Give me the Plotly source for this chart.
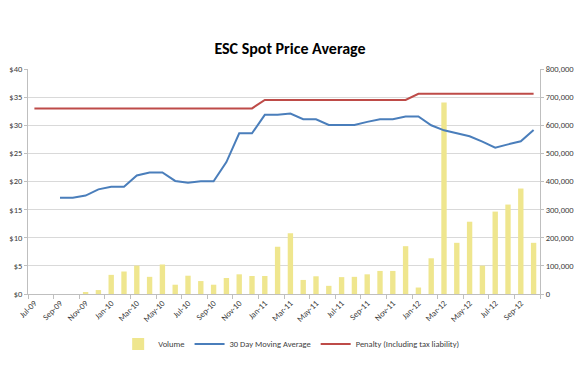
import plotly.graph_objects as go

months = ["Jul-09","Aug-09","Sep-09","Oct-09","Nov-09","Dec-09",
          "Jan-10","Feb-10","Mar-10","Apr-10","May-10","Jun-10","Jul-10","Aug-10","Sep-10","Oct-10","Nov-10","Dec-10",
          "Jan-11","Feb-11","Mar-11","Apr-11","May-11","Jun-11","Jul-11","Aug-11","Sep-11","Oct-11","Nov-11","Dec-11",
          "Jan-12","Feb-12","Mar-12","Apr-12","May-12","Jun-12","Jul-12","Aug-12","Sep-12","Oct-12"]

volume = [0, 0, 0, 0, 7000, 14000,
          68000, 80000, 101000, 61000, 105000, 33000, 65000, 46000, 33000, 57000, 70000, 64000,
          64000, 168000, 216000, 50000, 63000, 29000, 60000, 61000, 70000, 82000, 82000, 170000,
          23000, 127000, 681000, 182000, 257000, 101000, 293000, 318000, 375000, 182000]

moving_avg = [None, None, 17.1, 17.1, 17.5, 18.6,
              19.05, 19.05, 21.07, 21.6, 21.6, 20.1, 19.8, 20.05, 20.05, 23.45, 28.57, 28.57,
              31.85, 31.85, 32.08, 31.07, 31.07, 30.06, 30.06, 30.06, 30.6, 31.07, 31.07, 31.55,
              31.55, 30.0, 29.1, 28.57, 28.04, 27.08, 26.0, 26.6, 27.14, 29.17]

penalty = [33.0]*18 + [34.5]*12 + [35.6]*10

FONT = "Calibri, Carlito, Lato, 'Open Sans', sans-serif"

fig = go.Figure()
fig.add_trace(go.Bar(x=months, y=volume, name="Volume", marker_color="#EFE68E",
                     marker_line_width=0, width=0.42, yaxis="y"))
fig.add_trace(go.Scatter(x=months, y=moving_avg, name="30 Day Moving Average", mode="lines",
                         line=dict(color="#4A7EBB", width=2), yaxis="y2"))
fig.add_trace(go.Scatter(x=months, y=penalty, name="Penalty (Including tax liability)", mode="lines",
                         line=dict(color="#BE4B48", width=2), yaxis="y2"))

fig.update_layout(
    width=580, height=386,
    margin=dict(l=28, r=40, t=69, b=92, autoexpand=False),
    paper_bgcolor="white", plot_bgcolor="white",
    font=dict(family=FONT, size=9, color="#404040"),
    title=dict(text="<b>ESC Spot Price Average</b>", x=0.5, xref="container", xanchor="center",
               y=1 - 48/386, yref="container", yanchor="middle",
               font=dict(family=FONT, size=16, color="#000000")),
    xaxis=dict(type="category", range=[-0.5, 39.5], tickangle=-45, dtick=2, tick0=0,
               tickson="boundaries", ticks="outside", ticklen=4, tickcolor="#BFBFBF",
               showline=True, linecolor="#BFBFBF", linewidth=1, showgrid=False,
               automargin=False, tickfont=dict(size=8.5, color="#404040")),
    yaxis=dict(side="right", range=[0, 800000], dtick=100000, tickformat=",",
               showgrid=True, gridcolor="#D9D9D9", gridwidth=1, automargin=False,
               showline=True, linecolor="#BFBFBF", ticks="outside", ticklen=3, tickcolor="#BFBFBF",
               zeroline=False, tickfont=dict(size=8.5, color="#404040")),
    yaxis2=dict(side="left", overlaying="y", range=[0, 40], dtick=5, tickprefix="$",
                showgrid=False, showline=True, linecolor="#BFBFBF", ticks="outside", ticklen=3,
                tickcolor="#BFBFBF", zeroline=False, automargin=False,
                tickfont=dict(size=8.5, color="#404040")),
    legend=dict(orientation="h", x=0.514, xanchor="center",
                y=-0.222, yanchor="middle", font=dict(size=8.5, color="#404040")),
    showlegend=True,
)

fig.write_html("out.html", config={"displayModeBar": False},
               post_script="document.body.style.margin='0';document.body.style.overflow='hidden';")
